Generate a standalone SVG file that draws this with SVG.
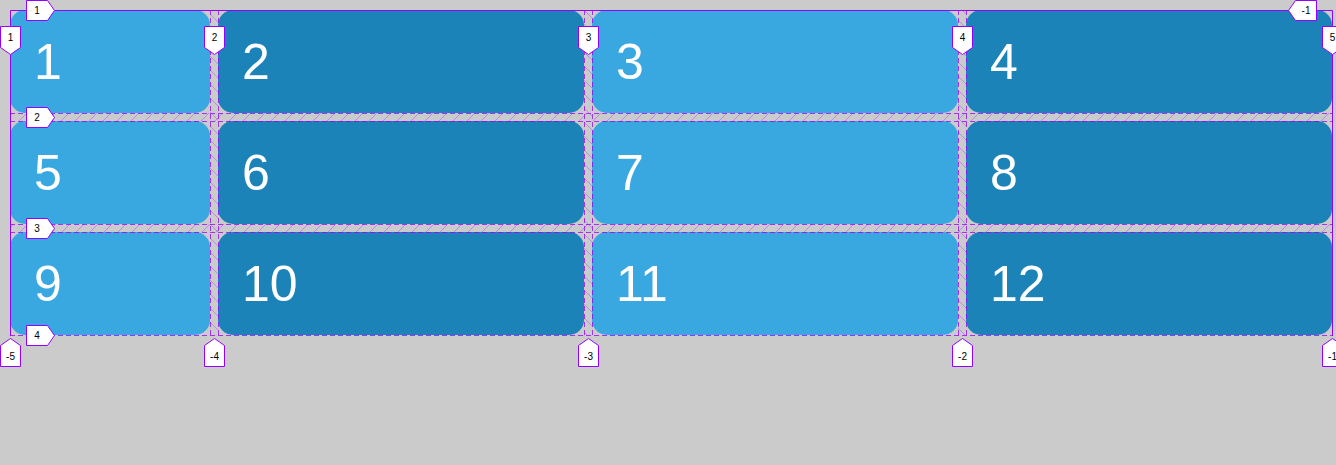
<svg xmlns="http://www.w3.org/2000/svg" width="1336" height="465" viewBox="0 0 1336 465">
<style>
.l{fill:#39a7e0}.d{fill:#1b83b7}
.n{font-family:"Liberation Sans",Arial,sans-serif;font-size:50px;fill:#fff}
.dash{stroke:#9400ff;stroke-opacity:0.75;stroke-width:1;stroke-dasharray:5 3;fill:none}
.solid{stroke:#9400ff;stroke-width:1;fill:none}
.lab{fill:#fff;stroke:#9400ff;stroke-width:1}
.lt{font-family:"Liberation Sans",Arial,sans-serif;font-size:10px;fill:#000;text-anchor:middle}
</style>
<defs>
<pattern id="rowHatch" patternUnits="userSpaceOnUse" width="14" height="14">
<path d="M-1,15 L15,-1" stroke="#9400ff" stroke-opacity="0.3" stroke-width="1"/>
</pattern>
<pattern id="colHatch" patternUnits="userSpaceOnUse" width="14" height="14">
<path d="M-1,-1 L15,15" stroke="#9400ff" stroke-opacity="0.3" stroke-width="1"/>
</pattern>
</defs>
<rect width="1336" height="465" fill="#cbcbcb"/>
<g id="cell1"><rect class="l" x="10" y="10" width="200" height="103" rx="15"/><text class="n" x="34" y="79">1</text></g>
<g id="cell2"><rect class="d" x="218" y="10" width="366" height="103" rx="15"/><text class="n" x="242" y="79">2</text></g>
<g id="cell3"><rect class="l" x="592" y="10" width="366" height="103" rx="15"/><text class="n" x="616" y="79">3</text></g>
<g id="cell4"><rect class="d" x="966" y="10" width="366" height="103" rx="15"/><text class="n" x="990" y="79">4</text></g>
<g id="cell5"><rect class="l" x="10" y="121" width="200" height="103" rx="15"/><text class="n" x="34" y="190">5</text></g>
<g id="cell6"><rect class="d" x="218" y="121" width="366" height="103" rx="15"/><text class="n" x="242" y="190">6</text></g>
<g id="cell7"><rect class="l" x="592" y="121" width="366" height="103" rx="15"/><text class="n" x="616" y="190">7</text></g>
<g id="cell8"><rect class="d" x="966" y="121" width="366" height="103" rx="15"/><text class="n" x="990" y="190">8</text></g>
<g id="cell9"><rect class="l" x="10" y="232" width="200" height="103" rx="15"/><text class="n" x="34" y="301">9</text></g>
<g id="cell10"><rect class="d" x="218" y="232" width="366" height="103" rx="15"/><text class="n" x="242" y="301">10</text></g>
<g id="cell11"><rect class="l" x="592" y="232" width="366" height="103" rx="15"/><text class="n" x="616" y="301">11</text></g>
<g id="cell12"><rect class="d" x="966" y="232" width="366" height="103" rx="15"/><text class="n" x="990" y="301">12</text></g>
<g id="gaps">
<rect x="210" y="10" width="8" height="325" fill="url(#colHatch)"/>
<rect x="584" y="10" width="8" height="325" fill="url(#colHatch)"/>
<rect x="958" y="10" width="8" height="325" fill="url(#colHatch)"/>
<rect x="10" y="113" width="1322" height="8" fill="url(#rowHatch)"/>
<rect x="10" y="224" width="1322" height="8" fill="url(#rowHatch)"/>
</g>
<g id="gridlines">
<path class="dash" d="M210.5,10V335M218.5,10V335M584.5,10V335M592.5,10V335M958.5,10V335M966.5,10V335"/>
<path class="dash" d="M10,113.5H1332M10,121.5H1332M10,224.5H1332M10,232.5H1332M10,335.5H1332"/>
<path class="solid" d="M10.5,336V10.5H1332.5V336"/>
</g>
<g id="labels">
<path class="lab" d="M26.5,0.5H47.5L54.5,10.5L47.5,20.5H26.5Z"/><text class="lt" x="37" y="14">1</text>
<path class="lab" d="M26.5,107.5H47.5L54.5,117.5L47.5,127.5H26.5Z"/><text class="lt" x="37" y="121">2</text>
<path class="lab" d="M26.5,218.5H47.5L54.5,228.5L47.5,238.5H26.5Z"/><text class="lt" x="37" y="232">3</text>
<path class="lab" d="M26.5,325.5H47.5L54.5,335.5L47.5,345.5H26.5Z"/><text class="lt" x="37" y="339">4</text>
<path class="lab" d="M1316.5,0.5V20.5H1295.5L1288.5,10.5L1295.5,0.5Z"/><text class="lt" x="1306" y="14">-1</text>
<path class="lab" d="M0.5,26.5H20.5V47.5L10.5,54.5L0.5,47.5Z"/><text class="lt" x="10.5" y="41">1</text>
<path class="lab" d="M204.5,26.5H224.5V47.5L214.5,54.5L204.5,47.5Z"/><text class="lt" x="214.5" y="41">2</text>
<path class="lab" d="M578.5,26.5H598.5V47.5L588.5,54.5L578.5,47.5Z"/><text class="lt" x="588.5" y="41">3</text>
<path class="lab" d="M952.5,26.5H972.5V47.5L962.5,54.5L952.5,47.5Z"/><text class="lt" x="962.5" y="41">4</text>
<path class="lab" d="M1322.5,26.5H1342.5V47.5L1332.5,54.5L1322.5,47.5Z"/><text class="lt" x="1332.5" y="41">5</text>
<path class="lab" d="M0.5,366.5H20.5V345.5L10.5,338.5L0.5,345.5Z"/><text class="lt" x="10.5" y="360">-5</text>
<path class="lab" d="M204.5,366.5H224.5V345.5L214.5,338.5L204.5,345.5Z"/><text class="lt" x="214.5" y="360">-4</text>
<path class="lab" d="M578.5,366.5H598.5V345.5L588.5,338.5L578.5,345.5Z"/><text class="lt" x="588.5" y="360">-3</text>
<path class="lab" d="M952.5,366.5H972.5V345.5L962.5,338.5L952.5,345.5Z"/><text class="lt" x="962.5" y="360">-2</text>
<path class="lab" d="M1322.5,366.5H1342.5V345.5L1332.5,338.5L1322.5,345.5Z"/><text class="lt" x="1332.5" y="360">-1</text>
</g>
</svg>
